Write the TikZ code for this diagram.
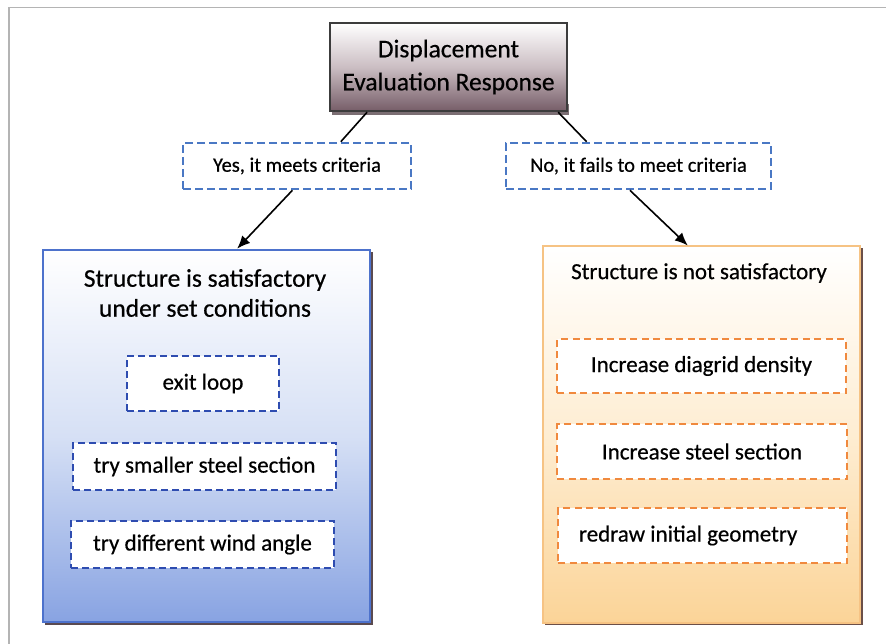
\documentclass[tikz,border=0pt]{standalone}
\usepackage{fontspec}
\setmainfont{Carlito}[FakeBold=0.5]
\usetikzlibrary{arrows.meta,calc}
\definecolor{framegray}{HTML}{B4B4B4}
\definecolor{headborder}{HTML}{3C3C3C}
\definecolor{headbottom}{HTML}{765D68}
\definecolor{headmid}{HTML}{CBBEC3}
\definecolor{labelblue}{HTML}{4A78C4}
\definecolor{okborder}{HTML}{4D72CC}
\definecolor{okmid}{HTML}{D6E0F5}
\definecolor{okbottom}{HTML}{88A3E2}
\definecolor{okdash}{HTML}{2E4CB0}
\definecolor{failborder}{HTML}{F6C384}
\definecolor{failmid}{HTML}{FEEDD2}
\definecolor{failbottom}{HTML}{FBD498}
\definecolor{faildash}{HTML}{F0893E}
\definecolor{shadowdark}{HTML}{5A4A50}
\tikzset{
  headbox/.style={draw=headborder, line width=2.4pt, top color=white, bottom color=headbottom,
    middle color=headmid, minimum width=237pt, minimum height=88pt, align=center,
    font=\fontsize{25.5}{33}\selectfont, inner sep=0pt},
  answerbox/.style={draw=labelblue, line width=2.6pt, dash pattern=on 8pt off 4pt, fill=white,
    minimum height=46pt, font=\fontsize{20.5}{24}\selectfont, inner sep=0pt},
  okpanel/.style={draw=okborder, line width=2.6pt, top color=white, bottom color=okbottom,
    middle color=okmid, inner sep=0pt},
  failpanel/.style={draw=failborder, line width=2pt, top color=white, bottom color=failbottom,
    middle color=failmid, inner sep=0pt},
  oktask/.style={draw=okdash, line width=2.8pt, dash pattern=on 7pt off 4pt, fill=white,
    inner sep=0pt, font=\fontsize{23}{27}\selectfont},
  failtask/.style={draw=faildash, line width=2.6pt, dash pattern=on 7pt off 4.5pt, fill=white,
    inner sep=0pt, font=\fontsize{23}{27}\selectfont},
  paneltitle/.style={align=center, font=\fontsize{25.5}{30}\selectfont, inner sep=0pt},
  link/.style={line width=1.6pt, black},
  arrowlink/.style={line width=1.6pt, black, -{Latex[length=13pt,width=11pt]}},
}
\begin{document}
\begin{tikzpicture}[x=1pt,y=-1pt]
\useasboundingbox (0,0) rectangle (886,644);
% page frame (top and left rules)
\draw[framegray, line width=1.2pt] (886,7.5) -- (9,7.5) -- (9,644);

% drop shadows
\fill[shadowdark!80] (332,104) rectangle (569,115);
\fill[shadowdark] (45,252) rectangle (373,625);
\fill[shadowdark!90!orange] (545,248) rectangle (863,625);

% header
\node[headbox] (head) at (448.5,67) {Displacement\\Evaluation Response};

% answers
\node[answerbox, minimum width=228pt] (yes) at (297,166) {Yes, it meets criteria};
\node[answerbox, minimum width=265pt] (no) at (638.5,166) {No, it fails to meet criteria};

% outcome panels
\node[okpanel, minimum width=327pt, minimum height=372pt] (okp) at (206.5,436) {};
\node[failpanel, minimum width=317pt, minimum height=376pt] (failp) at (701.5,434.5) {};

\node[paneltitle] (oktitle) at (205,293) {Structure is satisfactory\\under set conditions};
\node[paneltitle, font=\fontsize{23}{28}\selectfont] (failtitle) at (699,273) {Structure is not satisfactory};

% actions when criteria are met
\node[oktask, minimum width=152pt, minimum height=55pt] (exit) at (203,383.5) {exit loop};
\node[oktask, minimum width=263pt, minimum height=47pt] (smaller) at (204.5,466.5) {try smaller steel section};
\node[oktask, minimum width=263pt, minimum height=47pt] (wind) at (202.5,544.5) {try different wind angle};

% actions when criteria are not met
\node[failtask, minimum width=289pt, minimum height=54pt] (density) at (701.5,366) {Increase diagrid density};
\node[failtask, minimum width=290pt, minimum height=55pt] (steel) at (702,451.5) {Increase steel section};
\node[failtask, minimum width=289pt, minimum height=55pt] (redraw) at (702.5,535.5)
  {\makebox[289pt][l]{\hspace*{21pt}redraw initial geometry}};

% connectors
\draw[link] ($(head.south west)!0.16!(head.south east)$) -- ($(yes.north west)!0.69!(yes.north east)$);
\draw[link] ($(head.south west)!0.958!(head.south east)$) -- ($(no.north west)!0.306!(no.north east)$);
\draw[arrowlink] ($(yes.south west)!0.48!(yes.south east)$) -- ($(okp.north west)!0.593!(okp.north east)$);
\draw[arrowlink] ($(no.south west)!0.468!(no.south east)$) -- ($(failp.north west)!0.457!(failp.north east)$);
\end{tikzpicture}
\end{document}
